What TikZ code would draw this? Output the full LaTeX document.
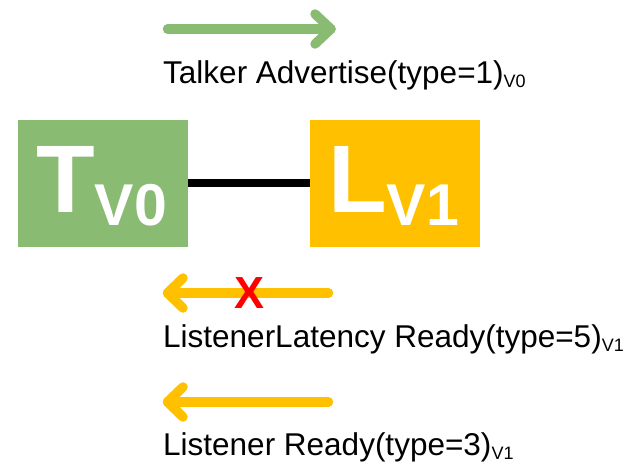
\documentclass[tikz,border=0pt]{standalone}
\usepackage{fontspec}
\setmainfont{Liberation Sans}
\definecolor{tgreen}{RGB}{138,187,114}
\definecolor{lyellow}{RGB}{255,192,0}
\begin{document}
\begin{tikzpicture}[x=1pt,y=-1pt,
  box/.style={draw=none,minimum width=170pt,minimum height=126.5pt,inner sep=0pt,anchor=north west},
  big/.style={text=white,font=\bfseries\fontsize{96}{100}\selectfont,inner sep=0pt,anchor=base west},
  lbl/.style={font=\fontsize{31.5}{36}\selectfont,inner sep=0pt,anchor=base west},
  arr/.style={line width=9.5pt,line cap=round,line join=round}]
\useasboundingbox (0,0) rectangle (633,463);
% boxes
\node[box,fill=tgreen] (T) at (18,120) {};
\node[box,fill=lyellow] (L) at (310,120) {};
\draw[line width=8pt] (T.east) -- (L.west);
\node[big] (Ttxt) at (36,212) {T\raisebox{-13pt}{\fontsize{59}{62}\selectfont V0}};
\node[big] (Ltxt) at (328,212) {L\raisebox{-13pt}{\fontsize{59}{62}\selectfont V1}};
% arrow 1 (green, right)
\coordinate (a1s) at (167.5,29);
\coordinate (a1e) at (331,29);
\draw[arr,tgreen] (a1s) -- (a1e);
\draw[arr,tgreen] (315,14) -- (a1e) -- (315,44);
\node[lbl] (t1) at (163,83) {Talker Advertise(type=1)\raisebox{-4.5pt}{\fontsize{18}{20}\selectfont V0}};
% arrow 2 (yellow, left, crossed)
\coordinate (a2s) at (328.5,293);
\coordinate (a2e) at (167.5,293);
\draw[arr,lyellow] (a2s) -- (a2e);
\draw[arr,lyellow] (183,278) -- (a2e) -- (183,308);
\node[text=red,font=\bfseries\fontsize{45}{48}\selectfont,inner sep=0pt] (x) at (249.5,293.5) {X};
\node[lbl] (t2) at (163,347) {ListenerLatency Ready(type=5)\raisebox{-4.5pt}{\fontsize{18}{20}\selectfont V1}};
% arrow 3 (yellow, left)
\coordinate (a3s) at (328.5,402);
\coordinate (a3e) at (167.5,402);
\draw[arr,lyellow] (a3s) -- (a3e);
\draw[arr,lyellow] (183,387) -- (a3e) -- (183,417);
\node[lbl] (t3) at (163,455) {Listener Ready(type=3)\raisebox{-4.5pt}{\fontsize{18}{20}\selectfont V1}};
\end{tikzpicture}
\end{document}
